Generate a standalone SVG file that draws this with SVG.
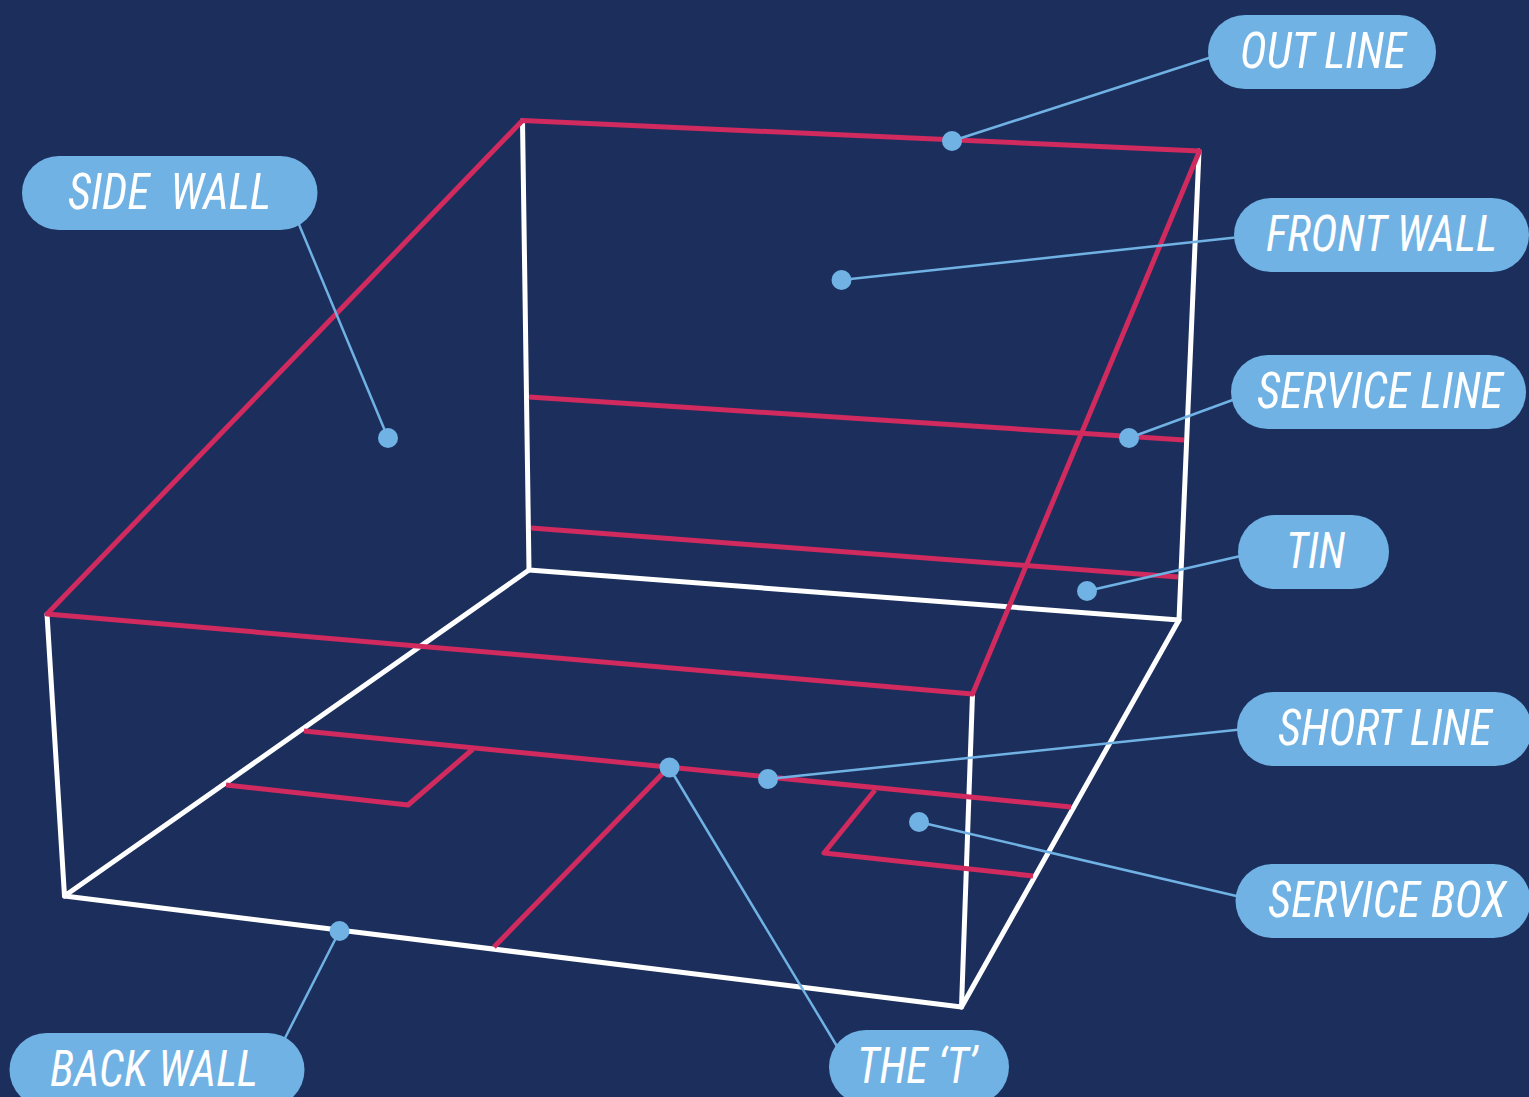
<svg xmlns="http://www.w3.org/2000/svg" width="1529" height="1097" viewBox="0 0 1529 1097">
<style>
.w{stroke:#fff;stroke-width:5;fill:none;stroke-linejoin:round;stroke-linecap:round}
.r{stroke:#d02a5f;stroke-width:5;fill:none;stroke-linejoin:round;stroke-linecap:butt}
.c{stroke:#70b2e4;stroke-width:2.5;fill:none}
.d{fill:#70b2e4}
.p{fill:#70b2e4}
.t{fill:#fff;font-family:"Roboto Condensed","Liberation Sans Narrow","Liberation Sans",sans-serif;font-style:italic;font-size:50.5px;font-weight:400}
</style>
<rect width="1529" height="1097" fill="#1c2f5c"/>
<g id="court">
<path class="w" d="M522.500 120.500L529 570L1179 620L1199 151"/>
<path class="w" d="M529 570L64.500 896L47 614"/>
<path class="w" d="M64.500 896L961.500 1007L972.500 694"/>
<path class="w" d="M961.500 1007L1179 620"/>
<path class="r" d="M47 614L522.500 120.500L1199.500 151L972.500 694Z"/>
<path class="r" d="M529 397L1184 440"/>
<path class="r" d="M531 528L1178 577"/>
<path class="r" d="M304 731L1071 807"/>
<path class="r" d="M226 785L408 805L473 749"/>
<path class="r" d="M875 790L824 853L1033 876"/>
<path class="r" d="M494 947L669 767"/>
</g>
<g id="connectors">
<path class="c" d="M952 141L1215 56"/>
<path class="c" d="M841 280L1240 237"/>
<path class="c" d="M1129 438L1238 398"/>
<path class="c" d="M1087 591L1245 555"/>
<path class="c" d="M768 779L1245 729"/>
<path class="c" d="M919 822L1245 898"/>
<path class="c" d="M669 767L838 1048"/>
<path class="c" d="M339.500 931L284 1040"/>
<path class="c" d="M388 438L298 222"/>
</g>
<g id="dots">
<circle class="d" cx="952" cy="141" r="10"/>
<circle class="d" cx="841.500" cy="280" r="10"/>
<circle class="d" cx="1129" cy="438" r="10"/>
<circle class="d" cx="1087" cy="591" r="10"/>
<circle class="d" cx="768" cy="779" r="10"/>
<circle class="d" cx="919" cy="822" r="10"/>
<circle class="d" cx="669.500" cy="767.500" r="10"/>
<circle class="d" cx="339.500" cy="931" r="10"/>
<circle class="d" cx="388" cy="438" r="10"/>
</g>
<g id="out-line"><rect class="p" x="1208" y="15" width="228" height="74" rx="37"/><text class="t" x="1240" y="68" textLength="166" lengthAdjust="spacingAndGlyphs">OUT LINE</text></g>
<g id="side-wall"><rect class="p" x="22" y="156" width="295.500" height="74" rx="37"/><text class="t" x="68" y="209" textLength="203" lengthAdjust="spacingAndGlyphs" xml:space="preserve">SIDE  WALL</text></g>
<g id="front-wall"><rect class="p" x="1234" y="198" width="295" height="74" rx="37"/><text class="t" x="1266" y="251" textLength="231" lengthAdjust="spacingAndGlyphs">FRONT WALL</text></g>
<g id="service-line"><rect class="p" x="1231" y="355" width="295" height="74" rx="37"/><text class="t" x="1257" y="408" textLength="246" lengthAdjust="spacingAndGlyphs">SERVICE LINE</text></g>
<g id="tin"><rect class="p" x="1238" y="515" width="151" height="74" rx="37"/><text class="t" x="1286" y="568" textLength="59" lengthAdjust="spacingAndGlyphs">TIN</text></g>
<g id="short-line"><rect class="p" x="1237" y="692" width="295" height="74" rx="37"/><text class="t" x="1278" y="745" textLength="214" lengthAdjust="spacingAndGlyphs">SHORT LINE</text></g>
<g id="service-box"><rect class="p" x="1235.500" y="864" width="295" height="74" rx="37"/><text class="t" x="1268" y="917" textLength="238" lengthAdjust="spacingAndGlyphs">SERVICE BOX</text></g>
<g id="back-wall"><rect class="p" x="9.500" y="1033" width="295" height="74" rx="37"/><text class="t" x="50" y="1086" textLength="208" lengthAdjust="spacingAndGlyphs">BACK WALL</text></g>
<g id="the-t"><rect class="p" x="829" y="1030" width="180" height="74" rx="37"/><text class="t" x="857" y="1083" textLength="120" lengthAdjust="spacingAndGlyphs">THE ‘T’</text></g>
</svg>
